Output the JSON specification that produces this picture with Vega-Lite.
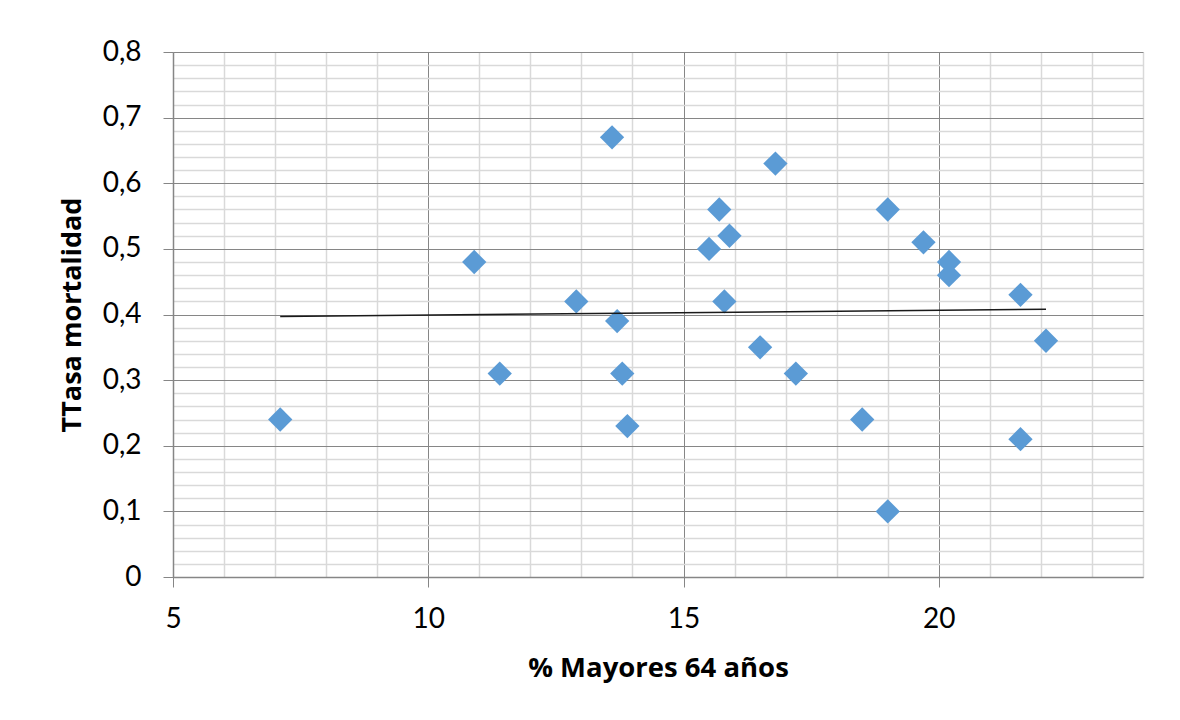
{
  "$schema": "https://vega.github.io/schema/vega-lite/v6.json",
  "width": 970,
  "height": 525,
  "autosize": "none",
  "padding": {"left": 173, "top": 52, "right": 37, "bottom": 143},
  "background": "white",
  "config": {"view": {"stroke": null}},
  "data": {"values": [
    {"x": 7.1, "y": 0.24}, {"x": 10.9, "y": 0.48}, {"x": 11.4, "y": 0.31}, {"x": 12.9, "y": 0.42},
    {"x": 13.6, "y": 0.67}, {"x": 13.7, "y": 0.39}, {"x": 13.8, "y": 0.31}, {"x": 13.9, "y": 0.23},
    {"x": 15.5, "y": 0.50}, {"x": 15.7, "y": 0.56}, {"x": 15.8, "y": 0.42}, {"x": 15.9, "y": 0.52},
    {"x": 16.5, "y": 0.35}, {"x": 16.8, "y": 0.63}, {"x": 17.2, "y": 0.31}, {"x": 18.5, "y": 0.24},
    {"x": 19.0, "y": 0.56}, {"x": 19.0, "y": 0.10}, {"x": 19.7, "y": 0.51}, {"x": 20.2, "y": 0.48},
    {"x": 20.2, "y": 0.46}, {"x": 21.6, "y": 0.43}, {"x": 21.6, "y": 0.21}, {"x": 22.1, "y": 0.36}
  ]},
  "encoding": {
    "x": {
      "field": "x", "type": "quantitative",
      "scale": {"domain": [5, 24], "nice": false, "zero": false},
      "axis": {
        "title": "% Mayores 64 años",
        "values": [5,6,7,8,9,10,11,12,13,14,15,16,17,18,19,20,21,22,23,24],
        "labelExpr": "datum.value % 5 === 0 ? datum.label : ''",
        "labelFont": "Lato", "labelFontSize": 28, "labelColor": "#000000", "labelPadding": 18,
        "labelFlush": false, "labelOverlap": false,
        "tickSize": 10, "tickWidth": 1,
        "tickColor": {"condition": {"test": "datum.value % 5 === 0", "value": "#868686"}, "value": "transparent"},
        "domainColor": "#868686", "domainWidth": 1.5,
        "grid": true,
        "gridColor": {"condition": {"test": "datum.value % 5 === 0", "value": "#868686"}, "value": "#D9D9D9"},
        "gridWidth": {"condition": {"test": "datum.value % 5 === 0", "value": 1}, "value": 1.5},
        "titleFont": "Open Sans", "titleFontSize": 27.5, "titleFontWeight": "bold", "titleColor": "#000000",
        "titlePadding": 21
      }
    },
    "y": {
      "field": "y", "type": "quantitative",
      "scale": {"domain": [0, 0.8], "nice": false},
      "axis": {
        "title": "TTasa mortalidad",
        "values": [0,0.02,0.04,0.06,0.08,0.1,0.12,0.14,0.16,0.18,0.2,0.22,0.24,0.26,0.28,0.3,0.32,0.34,0.36,0.38,0.4,0.42,0.44,0.46,0.48,0.5,0.52,0.54,0.56,0.58,0.6,0.62,0.64,0.66,0.68,0.7,0.72,0.74,0.76,0.78,0.8],
        "labelExpr": "abs(round(datum.value*10) - datum.value*10) < 1e-6 ? (datum.value == 0 ? '0' : replace(format(datum.value, '.1f'), '.', ',')) : ''",
        "labelFont": "Lato", "labelFontSize": 28, "labelColor": "#000000", "labelPadding": 22,
        "labelFlush": false, "labelOverlap": false,
        "tickSize": 10, "tickWidth": 1,
        "tickColor": {"condition": {"test": "abs(round(datum.value*10) - datum.value*10) < 1e-6", "value": "#868686"}, "value": "transparent"},
        "domainColor": "#868686", "domainWidth": 1.5,
        "grid": true,
        "gridColor": {"condition": {"test": "abs(round(datum.value*10) - datum.value*10) < 1e-6", "value": "#868686"}, "value": "#D9D9D9"},
        "gridWidth": {"condition": {"test": "abs(round(datum.value*10) - datum.value*10) < 1e-6", "value": 1}, "value": 1.5},
        "titleFont": "Open Sans", "titleFontSize": 27, "titleFontWeight": "bold", "titleColor": "#000000",
        "titlePadding": 16
      }
    }
  },
  "layer": [
    {
      "mark": {"type": "point", "shape": "diamond", "filled": true, "size": 590, "color": "#5B9BD5", "opacity": 1}
    },
    {
      "transform": [{"regression": "y", "on": "x"}],
      "mark": {"type": "line", "color": "#1A1A1A", "strokeWidth": 1.5}
    }
  ]
}
